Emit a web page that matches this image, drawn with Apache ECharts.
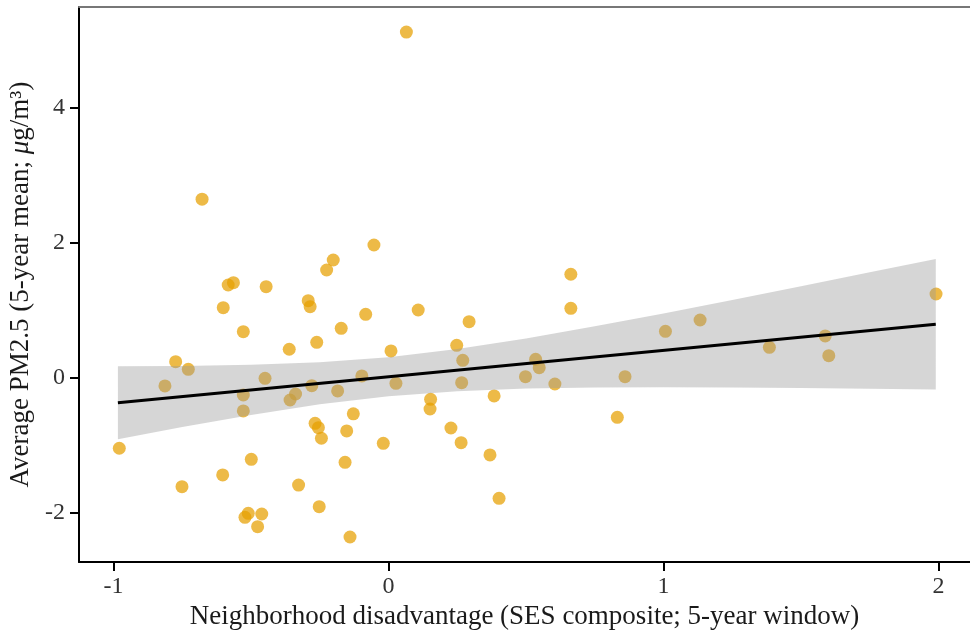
<!DOCTYPE html>
<html>
<head>
<meta charset="utf-8">
<script src="https://cdn.jsdelivr.net/npm/echarts@6/dist/echarts.min.js"></script>
<style>
html,body{margin:0;padding:0;background:#fff;}
#chart{width:970px;height:631px;}
</style>
</head>
<body>
<div id="chart"></div>
<script>
// Scatter points: neighborhood disadvantage (x) vs average PM2.5 (y)
const pointsX = [-0.053,-0.201,-0.225,-0.583,-0.564,-0.445,-0.292,-0.285,-0.601,-0.083,
  -0.528,-0.172,-0.261,-0.361,0.009,-0.774,-0.728,-0.813,-0.449,-0.528,
  -0.358,-0.338,-0.279,-0.185,-0.097,0.027,-0.528,-0.128,-0.979,-0.267,
  -0.255,-0.244,-0.152,-0.019,-0.499,-0.158,-0.603,-0.751,-0.327,-0.510,
  -0.522,-0.461,-0.476,-0.252,-0.140,0.108,0.293,0.248,0.270,0.266,
  0.663,0.663,0.535,0.548,0.498,0.605,0.860,0.153,0.151,0.384,
  0.227,0.264,0.369,0.402,0.832,1.007,1.133,1.385,1.588,1.601,
  1.991,0.065,-0.678];
const pointsY = [1.962,1.740,1.592,1.370,1.404,1.345,1.138,1.049,1.035,0.936,
  0.680,0.729,0.522,0.419,0.394,0.236,0.122,-0.124,-0.011,-0.258,
  -0.332,-0.243,-0.119,-0.198,0.024,-0.085,-0.494,-0.536,-1.046,-0.677,
  -0.741,-0.898,-0.790,-0.973,-1.210,-1.254,-1.441,-1.614,-1.590,-2.009,
  -2.068,-2.019,-2.206,-1.910,-2.359,1.000,0.827,0.478,0.256,-0.075,
  1.529,1.025,0.271,0.147,0.014,-0.095,0.014,-0.322,-0.465,-0.272,
  -0.746,-0.963,-1.145,-1.787,-0.588,0.685,0.852,0.448,0.616,0.324,
  1.237,5.113,2.640];

// Fitted line endpoints
const fitX = [-0.984, 1.99];
const fitY = [-0.371, 0.789];

// Confidence band
const bandX = [-0.984,-0.75,-0.5,-0.25,0,0.25,0.5,0.75,1.0,1.25,1.5,1.75,1.99];
const bandUpper = [0.169,0.172,0.189,0.227,0.302,0.422,0.579,0.758,0.949,1.148,1.351,1.557,1.756];
const bandLower = [-0.911,-0.732,-0.553,-0.396,-0.276,-0.201,-0.163,-0.147,-0.143,-0.147,-0.155,-0.166,-0.178];

// Tick values
const xTicks = [-1, 0, 1, 2];
const yTicks = [-2, 0, 2, 4];

const xTitle = 'Neighborhood disadvantage (SES composite; 5-year window)';
const yTitle = 'Average PM2.5 (5-year mean; {i|μ}g/m³)';

const X_MIN = -1.1255, X_MAX = 2.1145;
const Y_MIN = -2.729, Y_MAX = 5.484;

const chart = echarts.init(document.getElementById('chart'), null, {renderer: 'canvas'});

const scatterData = pointsX.map((x, i) => [x, pointsY[i]]);
const lineData = fitX.map((x, i) => [x, fitY[i]]);

const fontFam = '"Liberation Serif", "DejaVu Serif", serif';

chart.setOption({
  animation: false,
  backgroundColor: '#ffffff',
  grid: {left: 79, right: 0, top: 7, bottom: 69, containLabel: false, outerBoundsMode: 'none'},
  xAxis: [{
    type: 'value',
    position: 'bottom',
    min: X_MIN, max: X_MAX,
    name: xTitle,
    nameLocation: 'middle',
    nameGap: 37,
    nameTextStyle: {fontFamily: fontFam, fontSize: 27, color: '#1a1a1a'},
    axisLine: {show: true, onZero: false, lineStyle: {color: '#000', width: 2}},
    axisTick: {show: true, length: 9, customValues: xTicks, lineStyle: {color: '#000', width: 2}},
    axisLabel: {show: true, customValues: xTicks, margin: 13, fontFamily: fontFam, fontSize: 24, color: '#333'},
    splitLine: {show: false}
  }, {
    type: 'value',
    position: 'top',
    min: X_MIN, max: X_MAX,
    axisLine: {show: true, onZero: false, lineStyle: {color: '#777', width: 2}},
    axisTick: {show: false},
    axisLabel: {show: false},
    splitLine: {show: false}
  }],
  yAxis: {
    type: 'value',
    min: Y_MIN, max: Y_MAX,
    name: yTitle,
    nameLocation: 'middle',
    nameGap: 42,
    nameTextStyle: {fontFamily: fontFam, fontSize: 27, color: '#1a1a1a',
      rich: {i: {fontFamily: fontFam, fontSize: 27, fontStyle: 'italic', color: '#1a1a1a'}}},
    axisLine: {show: true, onZero: false, lineStyle: {color: '#000', width: 2}},
    axisTick: {show: true, length: 9, customValues: yTicks, lineStyle: {color: '#000', width: 2}},
    axisLabel: {show: true, customValues: yTicks, margin: 14, fontFamily: fontFam, fontSize: 24, color: '#333'},
    splitLine: {show: false}
  },
  series: [{
    type: 'scatter',
    xAxisIndex: 0,
    data: scatterData,
    symbolSize: 13,
    itemStyle: {color: 'rgba(230,159,0,0.9)'},
    z: 2
  }, {
    type: 'custom',
    xAxisIndex: 0,
    data: [[bandX[0], bandUpper[0]]],
    z: 3,
    silent: true,
    renderItem: function (params, api) {
      const pts = [];
      for (let i = 0; i < bandX.length; i++) pts.push(api.coord([bandX[i], bandUpper[i]]));
      for (let i = bandX.length - 1; i >= 0; i--) pts.push(api.coord([bandX[i], bandLower[i]]));
      return {type: 'polygon', shape: {points: pts}, style: {fill: 'rgba(153,153,153,0.4)', stroke: null}};
    }
  }, {
    type: 'line',
    xAxisIndex: 0,
    data: lineData,
    showSymbol: false,
    symbol: 'none',
    lineStyle: {color: '#000', width: 3},
    z: 4
  }]
});
</script>
</body>
</html>
